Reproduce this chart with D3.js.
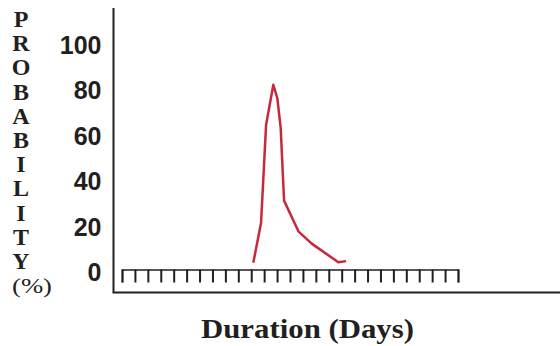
<!DOCTYPE html>
<html>
<head>
<meta charset="utf-8">
<script src="https://cdn.jsdelivr.net/npm/d3@7"></script>
<style>
  body { margin: 0; background: #fff; }
  svg { display: block; }
</style>
</head>
<body>
<svg id="chart" width="560" height="346"></svg>
<script>
// ---- data ----
const days = [10.16, 10.76, 11.15, 11.71, 12.02, 12.28, 12.54, 13.65, 14.68, 16.74, 17.34];
const probability = [4.3, 21.8, 64.9, 82.5, 76.6, 63.5, 31.6, 18.1, 12.7, 4.5, 5.0];
const yTicks = [0, 20, 40, 60, 80, 100];
const dayTicks = d3.range(0, 27);
const yLetters = ["P", "R", "O", "B", "A", "B", "I", "L", "I", "T", "Y"];
const yUnit = "(%)";
const xTitle = "Duration (Days)";

const svg = d3.select("#chart");
const x = d3.scaleLinear().domain([0, 26]).range([122, 458]);
const y = d3.scaleLinear().domain([0, 100]).range([272.5, 45]);

// L-shaped frame
svg.append("path")
  .attr("d", "M113.5,8 V292.5 H560")
  .attr("fill", "none")
  .attr("stroke", "#231f20")
  .attr("stroke-width", 2);

// comb x axis
const xa = svg.append("g")
  .attr("transform", "translate(0,269.5)")
  .call(d3.axisBottom(x).tickValues(dayTicks).tickFormat("").tickSizeInner(13).tickSizeOuter(13));
xa.select(".domain").attr("stroke", "#231f20").attr("stroke-width", 1.6);
xa.selectAll(".tick line").attr("stroke", "#231f20").attr("stroke-width", 2);

// y tick labels
const ya = svg.append("g")
  .attr("transform", "translate(113.5,0)")
  .call(d3.axisLeft(y).tickValues(yTicks).tickSize(0).tickPadding(12));
ya.select(".domain").remove();
ya.selectAll(".tick text")
  .attr("font-family", "'Liberation Sans', Arial, sans-serif")
  .attr("font-weight", "bold")
  .attr("font-size", 25)
  .attr("fill", "#231f20");

// line
svg.append("path")
  .datum(days.map((d, i) => [d, probability[i]]))
  .attr("fill", "none")
  .attr("stroke", "#c8283c")
  .attr("stroke-width", 2.5)
  .attr("stroke-linejoin", "round")
  .attr("d", d3.line().x(d => x(d[0])).y(d => y(d[1])));

// stacked vertical y title
svg.append("g").selectAll("text")
  .data(yLetters)
  .join("text")
  .attr("x", 21)
  .attr("y", (d, i) => 27 + i * 24.2)
  .attr("text-anchor", "middle")
  .attr("font-family", "'Liberation Serif', 'Times New Roman', serif")
  .attr("font-weight", "bold")
  .attr("font-size", 24)
  .attr("fill", "#231f20")
  .text(d => d);

svg.append("text")
  .attr("x", 12)
  .attr("y", 293)
  .attr("font-family", "'Liberation Serif', 'Times New Roman', serif")
  .attr("font-size", 22)
  .attr("textLength", 40)
  .attr("lengthAdjust", "spacingAndGlyphs")
  .attr("fill", "#231f20")
  .text(yUnit);

// x title
svg.append("text")
  .attr("x", 307.5)
  .attr("y", 338)
  .attr("text-anchor", "middle")
  .attr("font-family", "'Liberation Serif', 'Times New Roman', serif")
  .attr("font-weight", "bold")
  .attr("font-size", 27)
  .attr("textLength", 213)
  .attr("lengthAdjust", "spacingAndGlyphs")
  .attr("fill", "#231f20")
  .text(xTitle);
</script>
</body>
</html>
